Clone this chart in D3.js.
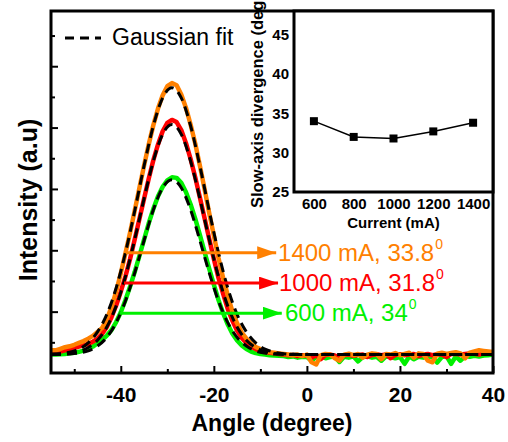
<!DOCTYPE html>
<html>
<head>
<meta charset="utf-8">
<script src="https://cdn.jsdelivr.net/npm/d3@7"></script>
<style>
  body { margin: 0; background: #fff; }
  svg { display: block; font-family: Arial, "Liberation Sans", sans-serif; }
</style>
</head>
<body>
<svg id="chart" width="508" height="442"></svg>
<script>
// ---- data ----
// sampling grid of the measured profiles (degree)
const angles = [-55,-54,-53,-52,-51,-50,-49,-48,-47,-46,-45,-44,-43,-42,-41,-40,-39,-38,-37,-36,
  -35,-34,-33,-32,-31,-30,-29,-28,-27,-26,-25,-24,-23,-22,-21,-20,-19,-18,-17,-16,
  -15,-14,-13,-12,-11,-10,-9,-8,-7,-6,-5,-4,-3,-2,-1,0,1,2,3,4,
  5,6,7,8,9,10,11,12,13,14,15,16,17,18,19,20,21,22,23,24,
  25,26,27,28,29,30,31,32,33,34,35,36,37,38,39,40];

// measured intensity (a.u)
const green600 = [.060,.060,.061,.062,.064,.066,.069,.073,.078,.086,.097,.108,.122,.140,.166,.198,.238,.282,.330,.382,
  .435,.488,.535,.576,.607,.628,.638,.636,.620,.590,.550,.503,.450,.395,.340,.288,.238,.195,.158,.128,
  .106,.090,.078,.070,.065,.062,.060,.058,.057,.056,.055,.052,.054,.050,.053,.052,.040,.053,.054,.048,
  .052,.054,.036,.053,.050,.054,.038,.052,.054,.050,.053,.040,.054,.052,.048,.052,.030,.054,.045,.053,
  .050,.054,.052,.034,.052,.055,.030,.054,.040,.055,.053,.056,.054,.057,.058,.060];
const red1000 = [.068,.068,.070,.074,.078,.082,.086,.090,.095,.102,.112,.128,.150,.182,.220,.265,.315,.372,.436,.502,
  .568,.633,.694,.745,.788,.815,.825,.818,.792,.750,.698,.638,.572,.505,.438,.372,.310,.258,.208,.170,
  .138,.114,.098,.086,.078,.072,.068,.066,.064,.062,.060,.058,.059,.055,.058,.057,.050,.058,.045,.059,
  .060,.057,.050,.058,.060,.056,.059,.060,.052,.059,.061,.058,.060,.048,.059,.061,.058,.060,.062,.055,
  .060,.062,.058,.061,.060,.052,.062,.063,.060,.062,.064,.063,.060,.064,.066,.065];
const orange1400 = [.074,.074,.079,.084,.087,.092,.098,.104,.112,.121,.134,.147,.175,.215,.265,.325,.390,.458,.530,.603,
  .676,.745,.808,.862,.905,.935,.945,.938,.908,.865,.810,.748,.676,.600,.522,.448,.375,.310,.252,.200,
  .162,.132,.112,.095,.085,.078,.072,.068,.066,.064,.062,.060,.058,.060,.055,.060,.035,.028,.058,.062,
  .060,.048,.040,.060,.063,.058,.062,.050,.060,.064,.062,.045,.062,.060,.065,.058,.062,.066,.050,.064,
  .062,.040,.035,.063,.066,.062,.065,.068,.064,.048,.066,.070,.074,.072,.070,.068];

// Gaussian fits, sampled from the dashed curves
const fitAngles = [-55,-53,-51,-49,-47,-45,-43,-41,-39,-37,-35,-33,-31,-29,-27,-25,-23,-21,-19,-17,
  -15,-13,-11,-9,-7,-5,-3,0,10,20,30,40];
const fitGreen = [.060,.061,.062,.065,.072,.088,.116,.164,.235,.327,.432,.532,.604,.630,.604,.532,.432,.327,.235,.164,
  .116,.088,.072,.065,.062,.061,.060,.060,.060,.060,.060,.060];
const fitRed = [.061,.061,.064,.070,.083,.107,.150,.218,.314,.436,.568,.691,.778,.810,.778,.691,.568,.436,.314,.218,
  .150,.107,.083,.070,.064,.061,.061,.060,.060,.060,.060,.060];
const fitOrange = [.061,.063,.068,.078,.098,.134,.191,.277,.392,.529,.675,.806,.897,.930,.897,.806,.675,.529,.392,.277,
  .191,.134,.098,.078,.068,.063,.061,.060,.060,.060,.060,.060];

// annotation arrows: level (a.u), start and tip (degree)
const arrowLevels = [0.392, 0.293, 0.195];
const arrowFrom = [-38.9, -39.3, -40.3];
const arrowTo = [-6.6, -6.2, -5.4];
const labelAt = [-6.2, -6.0, -4.7];
const labelText = ["1400 mA, 33.8", "1000 mA, 31.8", "600 mA, 34"];

// axis ticks
const xMajor = [-40, -20, 0, 20, 40];
const xMinor = [-50, -30, -10, 10, 30];
const yMajor = [0.2, 0.4, 0.6, 0.8, 1.0];
const yMinor = [0.1, 0.3, 0.5, 0.7, 0.9, 1.1];

// inset: divergence vs current
const currents = [600, 800, 1000, 1200, 1400];
const divergence = [34.0, 32.0, 31.8, 32.7, 33.8];
const insetXTicks = [600, 800, 1000, 1200, 1400];
const insetYTicks = [25, 30, 35, 40, 45];

// ---- layout ----
const margin = { top: 11, right: 15, bottom: 69, left: 51 };
const width = 508, height = 442;
const svg = d3.select("#chart");

const x = d3.scaleLinear().domain([-55, 40]).range([margin.left, width - margin.right]);
const y = d3.scaleLinear().domain([0, 1.18]).range([height - margin.bottom, margin.top]);

const orange = "#ff8000", red = "#ff0000", green = "#00f000";

const defs = svg.append("defs");
defs.append("clipPath").attr("id", "plot-clip")
  .append("rect")
  .attr("x", x.range()[0]).attr("y", y.range()[1])
  .attr("width", x.range()[1] - x.range()[0])
  .attr("height", y.range()[0] - y.range()[1]);

// measured profiles, green under red under orange
const dataLine = d3.line()
  .x((d, i) => x(angles[i]))
  .y(d => y(d));

const curves = svg.append("g").attr("clip-path", "url(#plot-clip)");
[[green600, green], [red1000, red], [orange1400, orange]].forEach(([vals, c]) => {
  curves.append("path")
    .attr("d", dataLine(vals))
    .attr("fill", "none")
    .attr("stroke", c)
    .attr("stroke-width", 4.5)
    .attr("stroke-linejoin", "round");
});

// dashed gaussian fits
const fitLine = d3.line()
  .x((d, i) => x(fitAngles[i]))
  .y(d => y(d))
  .curve(d3.curveMonotoneX);

[fitGreen, fitRed, fitOrange].forEach(vals => {
  curves.append("path")
    .attr("d", fitLine(vals))
    .attr("fill", "none")
    .attr("stroke", "#000")
    .attr("stroke-width", 3)
    .attr("stroke-dasharray", "10,6");
});

// arrows + labels
const arrowColors = [orange, red, green];
arrowLevels.forEach((lv, i) => {
  defs.append("marker")
    .attr("id", "head" + i)
    .attr("markerUnits", "userSpaceOnUse")
    .attr("markerWidth", 19).attr("markerHeight", 13)
    .attr("refX", 19).attr("refY", 6.5)
    .attr("orient", "auto")
    .append("path")
    .attr("d", "M0,0L19,6.5L0,13Z")
    .attr("fill", arrowColors[i]);

  svg.append("line")
    .attr("x1", x(arrowFrom[i])).attr("x2", x(arrowTo[i]))
    .attr("y1", y(lv)).attr("y2", y(lv))
    .attr("stroke", arrowColors[i])
    .attr("stroke-width", 3)
    .attr("marker-end", `url(#head${i})`);

  const t = svg.append("text")
    .attr("x", x(labelAt[i]))
    .attr("y", y(lv) + 8)
    .attr("fill", arrowColors[i])
    .style("font-size", "24px");
  t.append("tspan").text(labelText[i]);
  t.append("tspan").attr("dx", 1).attr("dy", -12).style("font-size", "14px").text("0");
});

// axes: ticks point inwards
const bottom = y.range()[0];
const xAxisMajor = d3.axisBottom(x).tickValues(xMajor).tickSizeInner(-7).tickSizeOuter(0)
  .tickPadding(14).tickFormat(d => String(d));
const xAxisMinor = d3.axisBottom(x).tickValues(xMinor).tickSizeInner(-4).tickSizeOuter(0).tickFormat("");

const gx = svg.append("g").attr("transform", `translate(0,${bottom})`).call(xAxisMajor);
svg.append("g").attr("transform", `translate(0,${bottom})`).call(xAxisMinor)
  .call(g => g.select(".domain").remove())
  .selectAll("line").attr("stroke-width", 2);
gx.select(".domain").remove();
gx.selectAll("line").attr("stroke-width", 2);
gx.selectAll("text")
  .style("font-size", "21px")
  .style("font-weight", "bold")
  .attr("fill", "#000");

const yAxisMajor = d3.axisLeft(y).tickValues(yMajor).tickSizeInner(-7).tickSizeOuter(0).tickFormat("");
const yAxisMinor = d3.axisLeft(y).tickValues(yMinor).tickSizeInner(-4).tickSizeOuter(0).tickFormat("");
[yAxisMajor, yAxisMinor].forEach(ax => {
  svg.append("g").attr("transform", `translate(${margin.left},0)`).call(ax)
    .call(g => g.select(".domain").remove())
    .selectAll("line").attr("stroke-width", 2);
});

// plot frame
svg.append("rect")
  .attr("x", x.range()[0]).attr("y", y.range()[1])
  .attr("width", x.range()[1] - x.range()[0])
  .attr("height", y.range()[0] - y.range()[1])
  .attr("fill", "none")
  .attr("stroke", "#000")
  .attr("stroke-width", 3);

// axis titles
svg.append("text")
  .attr("x", (x.range()[0] + x.range()[1]) / 2)
  .attr("y", 431)
  .attr("text-anchor", "middle")
  .style("font-size", "23px")
  .style("font-weight", "bold")
  .text("Angle (degree)");

svg.append("text")
  .attr("transform", `translate(37,${(y.range()[0] + y.range()[1]) / 2 + 8}) rotate(-90)`)
  .attr("text-anchor", "middle")
  .style("font-size", "25px")
  .style("font-weight", "bold")
  .text("Intensity (a.u)");

// legend
svg.append("line")
  .attr("x1", 65).attr("x2", 101)
  .attr("y1", 38).attr("y2", 38)
  .attr("stroke", "#000")
  .attr("stroke-width", 3)
  .attr("stroke-dasharray", "9,6");
svg.append("text")
  .attr("x", 112).attr("y", 45)
  .style("font-size", "23px")
  .text("Gaussian fit");

// ---- inset ----
const ix = d3.scaleLinear().domain([500, 1500]).range([294, x.range()[1]]);
const iy = d3.scaleLinear().domain([25, 48]).range([192, y.range()[1]]);

const inset = svg.append("g");
inset.append("rect")
  .attr("x", ix.range()[0]).attr("y", iy.range()[1])
  .attr("width", ix.range()[1] - ix.range()[0])
  .attr("height", iy.range()[0] - iy.range()[1])
  .attr("fill", "#fff")
  .attr("stroke", "#000")
  .attr("stroke-width", 3);

inset.append("path")
  .datum(currents)
  .attr("d", d3.line().x(d => ix(d)).y((d, i) => iy(divergence[i])))
  .attr("fill", "none")
  .attr("stroke", "#000")
  .attr("stroke-width", 1.5);

inset.selectAll("rect.pt")
  .data(currents)
  .join("rect")
  .attr("class", "pt")
  .attr("x", d => ix(d) - 4)
  .attr("y", (d, i) => iy(divergence[i]) - 4)
  .attr("width", 8).attr("height", 8)
  .attr("fill", "#000");

inset.append("g")
  .attr("transform", `translate(0,${iy.range()[0]})`)
  .call(d3.axisBottom(ix).tickValues(insetXTicks).tickSize(0).tickPadding(6).tickFormat(d => String(d)))
  .call(g => g.select(".domain").remove())
  .selectAll("text")
  .style("font-size", "15px").style("font-weight", "bold").attr("fill", "#000");

inset.append("g")
  .attr("transform", `translate(${ix.range()[0]},0)`)
  .call(d3.axisLeft(iy).tickValues(insetYTicks).tickSize(0).tickPadding(5))
  .call(g => g.select(".domain").remove())
  .selectAll("text")
  .style("font-size", "15px").style("font-weight", "bold").attr("fill", "#000");

inset.append("text")
  .attr("x", (ix.range()[0] + ix.range()[1]) / 2)
  .attr("y", 228)
  .attr("text-anchor", "middle")
  .style("font-size", "15px")
  .style("font-weight", "bold")
  .text("Current (mA)");

inset.append("text")
  .attr("transform", "translate(263,208) rotate(-90)")
  .style("font-size", "16.5px")
  .style("font-weight", "bold")
  .text("Slow-axis divergence (degree)");
</script>
</body>
</html>
